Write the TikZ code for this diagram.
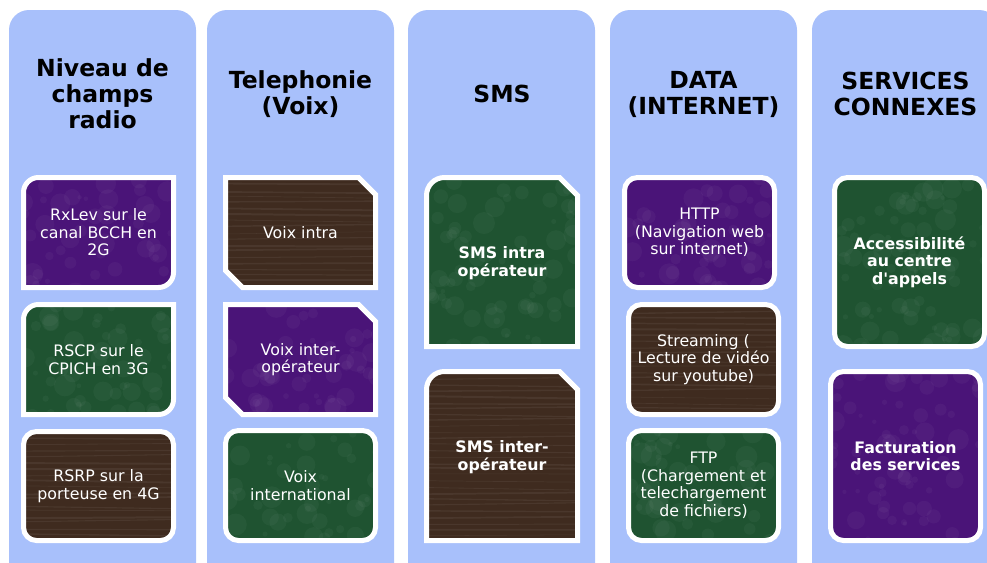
\documentclass[tikz,border=0pt]{standalone}
\usepackage{fontspec}
\newfontfamily\verdana{DejaVu Sans}
\usepackage{tikz}

\definecolor{colbg}{HTML}{A8C0FB}
\definecolor{tilepurple}{HTML}{4A1478}
\definecolor{tilegreen}{HTML}{1F5331}
\definecolor{tilebrown}{HTML}{3F2B1F}

% tiles: #1 style, #2 #3 top left, #4 #5 bottom right (outer edge)
\newcommand{\tilecorners}[4]{%
  \pgfmathsetmacro{\tlx}{#1+2.5}\pgfmathsetmacro{\tly}{#2+2.5}%
  \pgfmathsetmacro{\brx}{#3-2.5}\pgfmathsetmacro{\bry}{#4-2.5}}
\newcommand{\tileDiag}[5]{\tilecorners{#2}{#3}{#4}{#5}%
  \draw[tile,#1] (\tlx,\bry) -- (\tlx,\tly+15)
    .. controls (\tlx,\tly+6.7) and (\tlx+6.7,\tly) .. (\tlx+15,\tly)
    -- (\brx,\tly) -- (\brx,\bry-15)
    .. controls (\brx,\bry-6.7) and (\brx-6.7,\bry) .. (\brx-15,\bry) -- cycle;}
\newcommand{\tileSnip}[5]{\tilecorners{#2}{#3}{#4}{#5}%
  \draw[tile,#1] (\tlx+17,\bry) -- (\tlx,\bry-17) -- (\tlx,\tly) -- (\brx-17,\tly)
    -- (\brx,\tly+17) -- (\brx,\bry) -- cycle;}
\newcommand{\tileTab}[5]{\tilecorners{#2}{#3}{#4}{#5}%
  \draw[tile,#1] (\tlx,\bry) -- (\tlx,\tly+18)
    .. controls (\tlx,\tly+8) and (\tlx+8,\tly) .. (\tlx+18,\tly)
    -- (\brx-18,\tly) -- (\brx,\tly+18) -- (\brx,\bry) -- cycle;}
\newcommand{\tileRound}[5]{\tilecorners{#2}{#3}{#4}{#5}%
  \draw[tile,#1,rounded corners=13pt] (\tlx,\tly) rectangle (\brx,\bry);}

\begin{document}
\begin{tikzpicture}[x=1pt,y=-1pt,
  tile/.style={draw=white,line width=5pt},
  mottled/.style={fill=#1,path picture={
    \foreach \k in {1,...,90}
      \fill[white,opacity=0.035]
        ([xshift=rnd*180pt,yshift=-rnd*190pt]path picture bounding box.north west)
        circle (2+rnd*9);}},
  wood/.style={fill=tilebrown,path picture={
    \foreach \k in {1,...,30}
      \draw[white,opacity=0.06,line width=0.5pt+rnd*1.5pt]
        ([yshift=-\k*6pt-rnd*3pt]path picture bounding box.north west)
        -- ++(180,rnd*6-3);}},
  purpletile/.style={mottled=tilepurple},
  greentile/.style={mottled=tilegreen},
  browntile/.style={wood},
  column/.style={fill=colbg,rounded corners=20pt},
  header/.style={align=center,font=\verdana\bfseries\fontsize{23.5}{26}\selectfont},
  tiletext/.style={align=center,text=white,font=\verdana\fontsize{15.8}{17.5}\selectfont},
  tilebold/.style={tiletext,font=\verdana\bfseries\fontsize{15.8}{17.5}\selectfont}]
  \pgfmathsetseed{7}
  \clip (0,0) rectangle (987,562);
  \fill[white] (0,0) rectangle (987,562);

  % columns
  \foreach \x in {9,207,408,610,812}
    \fill[column] (\x,10) rectangle (\x+187,600);

  \node[header] (niveau) at (102.5,94) {Niveau de\\champs\\radio};
  \node[header] (telephonie) at (300.5,94) {Telephonie\\(Voix)};
  \node[header] (sms) at (502,94) {SMS};
  \node[header] (data) at (703.5,94) {DATA\\(INTERNET)};
  \node[header] (services) at (905.5,94) {SERVICES\\CONNEXES};

  % niveau de champs
  \tileDiag{purpletile}{21}{175}{176}{290}
  \node[tiletext] (rxlev) at (98.5,232.5) {RxLev sur le\\canal BCCH en\\2G};
  \tileDiag{greentile}{21}{302}{176}{417}
  \node[tiletext] (rscp) at (98.5,359.5) {RSCP sur le\\CPICH en 3G};
  \tileRound{browntile}{21}{429}{176}{543}
  \node[tiletext] (rsrp) at (98.5,486) {RSRP sur la\\porteuse en 4G};

  % voix
  \tileSnip{browntile}{223}{175}{378}{290}
  \node[tiletext] (vintra) at (300.5,232.5) {Voix intra};
  \tileSnip{purpletile}{223}{302}{378}{417}
  \node[tiletext] (vinter) at (300.5,359.5) {Voix inter-\\opérateur};
  \tileRound{greentile}{223}{428}{378}{543}
  \node[tiletext] (vintl) at (300.5,485.5) {Voix\\international};

  % sms
  \tileTab{greentile}{424}{175}{580}{349}
  \node[tilebold] (smsintra) at (502,263) {SMS intra\\opérateur};
  \tileTab{browntile}{424}{369}{580}{543}
  \node[tilebold] (smsinter) at (502,457) {SMS inter-\\opérateur};

  % data
  \tileRound{purpletile}{622}{175}{777}{290}
  \node[tiletext] (http) at (699.5,232.5) {HTTP\\(Navigation web\\sur internet)};
  \tileRound{browntile}{626}{302}{781}{417}
  \node[tiletext] (stream) at (703.5,359.5) {Streaming (\\Lecture de vidéo\\sur youtube)};
  \tileRound{greentile}{626}{428}{781}{543}
  \node[tiletext] (ftp) at (703.5,485.5) {FTP\\(Chargement et\\telechargement\\de fichiers)};

  % services connexes
  \tileRound{greentile}{832}{175}{987}{349}
  \node[tilebold] (acces) at (909.5,262) {Accessibilité\\au centre\\d'appels};
  \tileRound{purpletile}{828}{369}{983}{543}
  \node[tilebold] (factu) at (905.5,456) {Facturation\\des services};
\end{tikzpicture}
\end{document}
